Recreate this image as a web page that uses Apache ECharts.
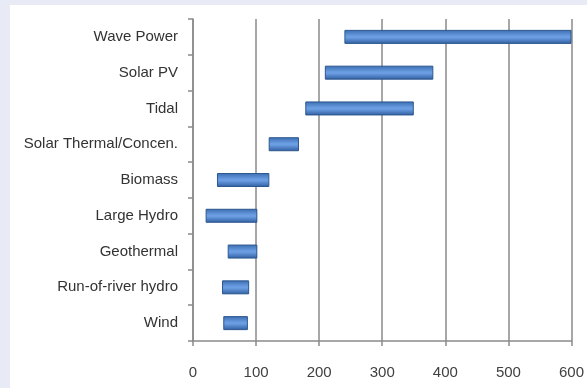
<!DOCTYPE html>
<html>
<head>
<meta charset="utf-8">
<script src="https://cdn.jsdelivr.net/npm/echarts@6/dist/echarts.min.js"></script>
<style>
html,body{margin:0;padding:0;background:#e8ebf6;}
#c{width:587px;height:388px;}
</style>
</head>
<body>
<div id="c"></div>
<script>
const categories = ["Wave Power","Solar PV","Tidal","Solar Thermal/Concen.","Biomass","Large Hydro","Geothermal","Run-of-river hydro","Wind"];
const startValues = [240, 209, 178, 120, 38, 20, 55, 46, 48];
const endValues   = [600, 381, 350, 168, 121, 102, 102, 89, 87];
const xTicks = [0, 100, 200, 300, 400, 500, 600];

const spans = endValues.map((v, i) => v - startValues[i]);

const chart = echarts.init(document.getElementById('c'));
chart.setOption({
  animation: false,
  backgroundColor: '#e8ebf6',
  graphic: [{
    type: 'rect', z: -10, silent: true,
    shape: {x: 10, y: 5, width: 577, height: 383},
    style: {fill: '#ffffff'}
  }],
  grid: {left: 193, right: 13, top: 19, bottom: 47, containLabel: false},
  xAxis: {
    type: 'value', min: xTicks[0], max: xTicks[xTicks.length-1], interval: 100,
    axisLine: {show: true, lineStyle: {color: '#8a8a8a', width: 1.5}},
    axisTick: {show: true, length: 5, lineStyle: {color: '#8a8a8a', width: 1.5}},
    splitLine: {show: true, lineStyle: {color: '#8a8a8a', width: 1.5}},
    axisLabel: {margin: 24, color: '#404040', fontSize: 15, fontFamily: 'Liberation Sans'}
  },
  yAxis: {
    type: 'category', data: categories, inverse: true,
    axisLine: {show: true, lineStyle: {color: '#8a8a8a', width: 1.5}},
    axisTick: {show: true, length: 5, lineStyle: {color: '#8a8a8a', width: 1.5}},
    axisLabel: {margin: 15, color: '#333', fontSize: 15, fontFamily: 'Liberation Sans', padding: [5, 0, 0, 0]}
  },
  series: [
    {
      type: 'bar', stack: 'r', data: startValues, barWidth: 14,
      itemStyle: {color: 'rgba(0,0,0,0)'}, silent: true
    },
    {
      type: 'bar', stack: 'r', data: spans, barWidth: 14,
      itemStyle: {
        color: new echarts.graphic.LinearGradient(0, 0, 0, 1, [
          {offset: 0, color: '#3a6cb0'},
          {offset: 0.45, color: '#6b9de2'},
          {offset: 0.55, color: '#6b9de2'},
          {offset: 1, color: '#2f5d9e'}
        ]),
        borderColor: '#2c578f', borderWidth: 1
      }
    }
  ]
});
</script>
</body>
</html>
